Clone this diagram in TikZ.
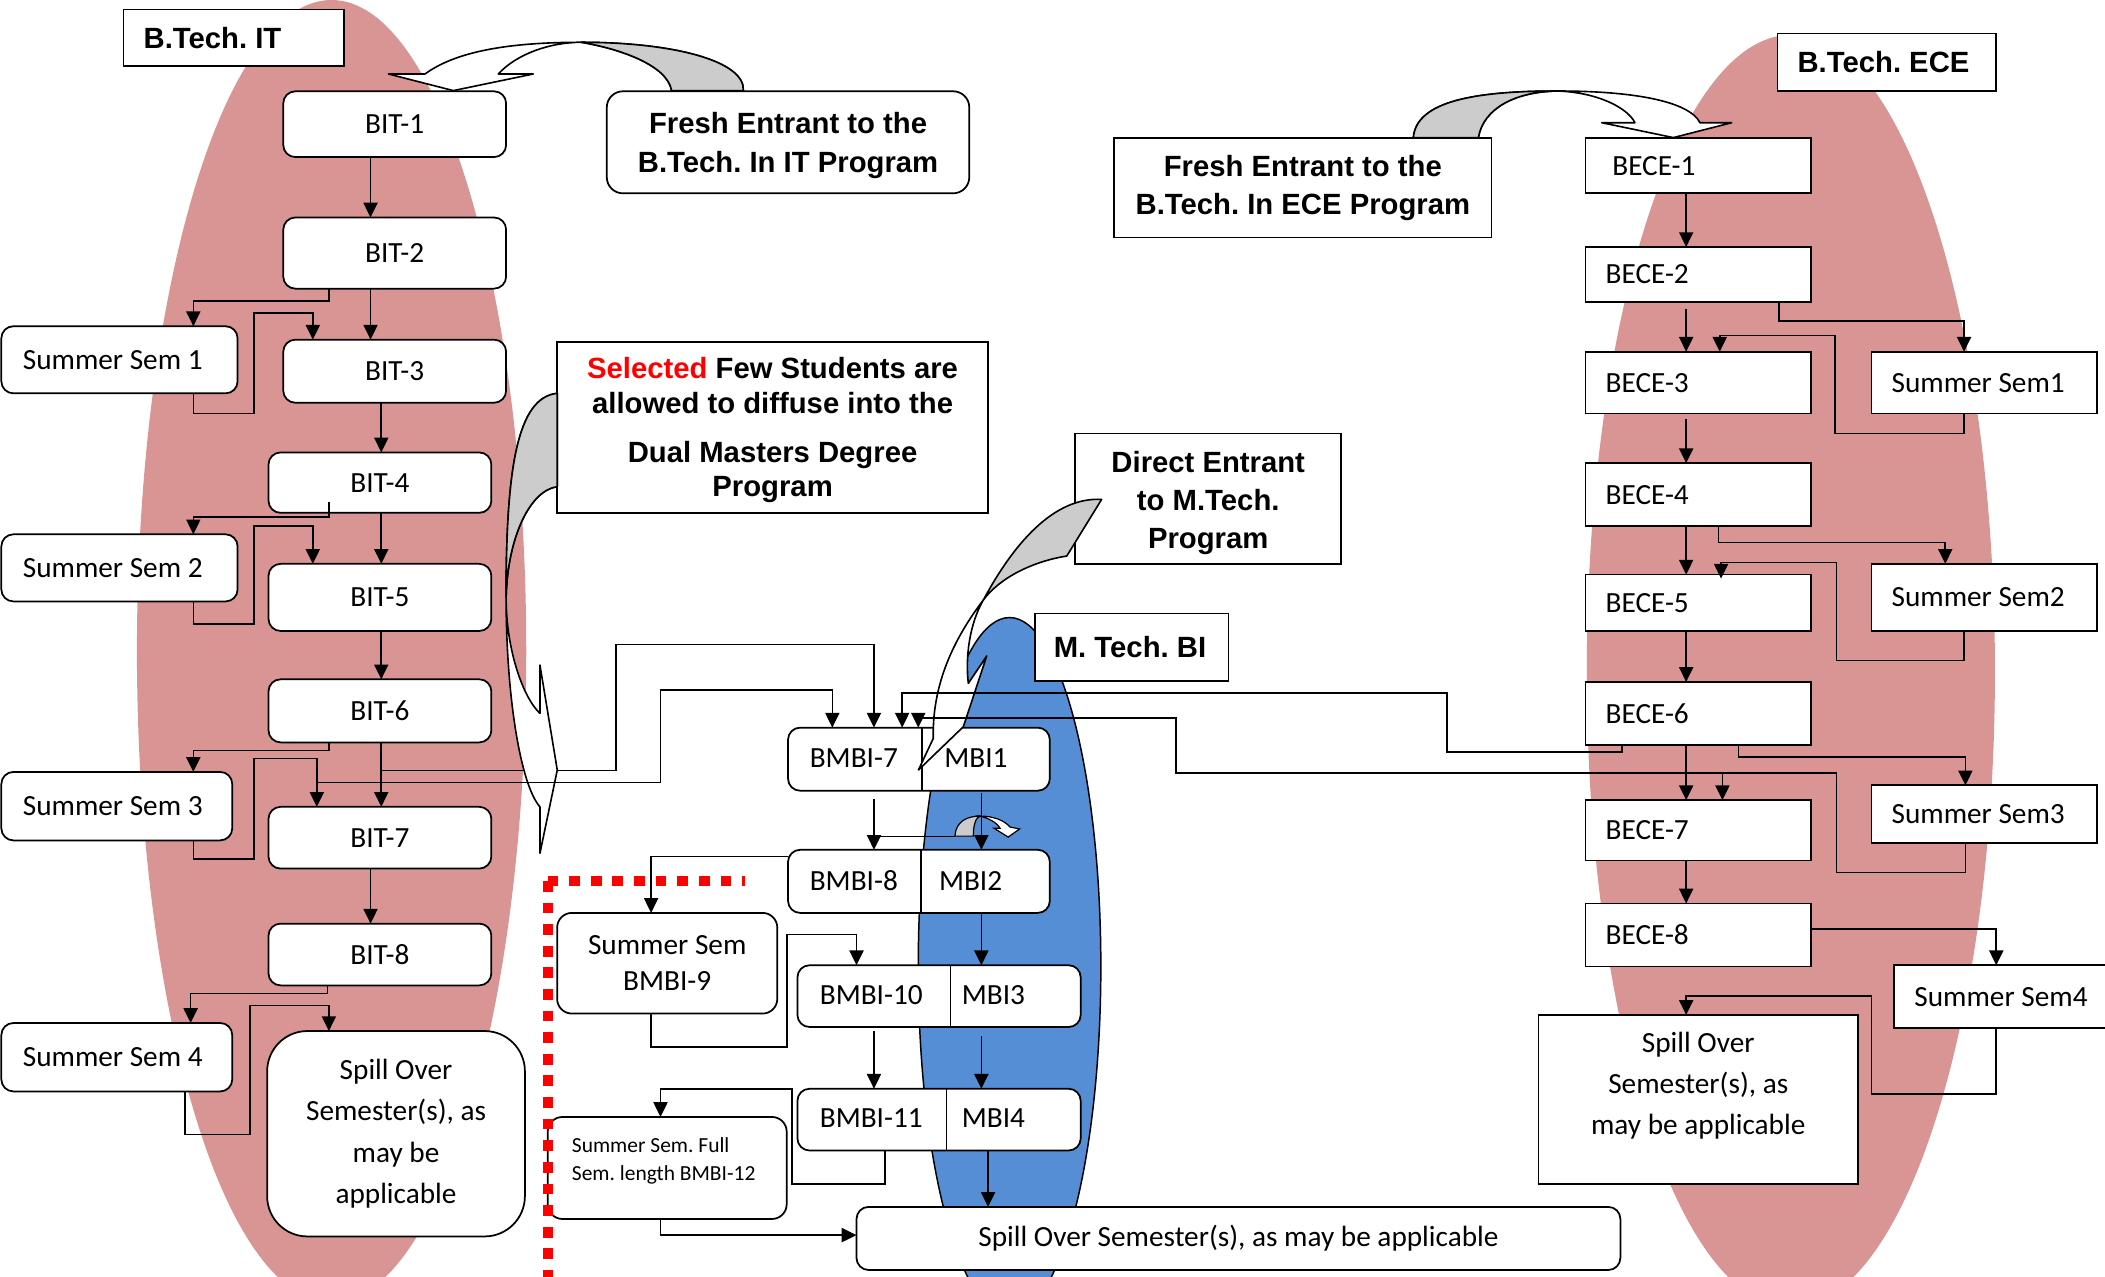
\documentclass[tikz,border=0pt]{standalone}
\usepackage{fontspec}
\setmainfont{Carlito}
\newfontfamily\arbold{Liberation Sans}
\usetikzlibrary{arrows.meta,calc}
\definecolor{pinkbg}{RGB}{217,149,148}
\definecolor{bluebg}{RGB}{85,142,213}
\definecolor{grayf}{RGB}{204,204,204}
\newcommand\fsz{\fontsize{21.8}{31}\selectfont}
\newcommand\ttlf{\arbold\bfseries\fontsize{21.8}{29}\selectfont}
\newcommand\mybox[7]{\node[#2, minimum width={#5-#3}, minimum height={#6-#4}, anchor=north west] (#1) at (#3,#4) {\spaceskip=0pt\xspaceskip=0pt\relax #7};}
\begin{document}
\frenchspacing
\begin{tikzpicture}[x=1pt,y=-1pt,
  every node/.style={outer sep=0pt},
  rbox/.style={draw, fill=white, rounded corners=9, line width=1.3, inner sep=0pt, font=\fsz, align=center},
  sbox/.style={draw, fill=white, line width=1.3, inner sep=0pt, font=\fsz, align=center},
  tbox/.style={sbox, font=\ttlf},
  lbl/.style={font=\fsz, inner sep=0pt},
  conn/.style={line width=1.2, -{Triangle[length=11pt,width=10.5pt]}},
  link/.style={line width=1.2},
  shp/.style={line width=1.2, line join=round}]
\useasboundingbox (0,0) rectangle (1568,950.5);
\clip (0,0) rectangle (1568,950.5);
% background shapes
\fill[pinkbg] (247,485) ellipse [x radius=145, y radius=485];
\fill[pinkbg] (1334,500) ellipse [x radius=152, y radius=474];
\filldraw[fill=bluebg, line width=1.1] (752,720) ellipse [x radius=68, y radius=260];
% left column
\mybox{btit}{tbox, align=left, text width=134, inner xsep=15}{92}{7}{256}{49}{B.Tech. IT}
\mybox{bit1}{rbox}{211}{68}{377}{117}{BIT-1}
\mybox{bit2}{rbox}{211}{162}{377}{215}{BIT-2}
\mybox{bit3}{rbox}{211}{253}{377}{300}{BIT-3}
\mybox{bit4}{rbox}{200}{337}{366}{382}{BIT-4}
\mybox{bit5}{rbox}{200}{420}{366}{470}{BIT-5}
\mybox{bit6}{rbox}{200}{506}{366}{553}{BIT-6}
\mybox{bit7}{rbox}{200}{601}{366}{647}{BIT-7}
\mybox{bit8}{rbox}{200}{688}{366}{734}{BIT-8}
\mybox{spillL}{rbox, rounded corners=30}{199}{768}{391}{921}{Spill Over\\Semester(s), as\\may be\\applicable}
\mybox{ss1}{rbox, align=left, text width=144, inner xsep=16}{1}{243}{177}{293}{Summer Sem 1}
\mybox{ss2}{rbox, align=left, text width=144, inner xsep=16}{1}{398}{177}{448}{Summer Sem 2}
\mybox{ss3}{rbox, align=left, text width=140, inner xsep=16}{1}{575}{173}{626}{Summer Sem 3}
\mybox{ss4}{rbox, align=left, text width=140, inner xsep=16}{1}{762}{173}{813}{Summer Sem 4}
% line from BIT-6 level to BMBI-7 (under the big arrow)
\coordinate (j1) at (284,574);
\draw[conn] (j1) -- (459,574) -- (459,480) -- (651,480) -- (651,542);
% top text boxes
\mybox{freshit}{rbox, rounded corners=12, font=\ttlf, text height=49pt}{452}{68}{722}{144}{Fresh Entrant to the\\B.Tech. In IT Program}
\mybox{freshece}{tbox, font={\arbold\bfseries\fontsize{21.8}{28}\selectfont}}{830}{103}{1111}{177}{Fresh Entrant to the\\B.Tech. In ECE Program}
\mybox{selected}{tbox, font={\arbold\bfseries\fontsize{21.8}{26}\selectfont}, text height=108pt}{415}{255}{736}{382}{\textcolor{red}{Selected} Few Students are\\allowed to diffuse into the\\[10pt]Dual Masters Degree\\Program}
\mybox{direct}{tbox, font={\arbold\bfseries\fontsize{21.8}{28.5}\selectfont}, text height=79pt}{801}{323}{999}{420}{Direct Entrant\\to M.Tech.\\Program}
\mybox{mtbi}{tbox, align=left, text width=116, inner xsep=14}{771}{457}{915}{507}{M. Tech. BI}
% ECE column
\mybox{btece}{tbox, align=left, text width=133, inner xsep=15}{1324}{25}{1487}{68}{B.Tech. ECE}
\mybox{bece1}{sbox, align=left, text width=128, inner xsep=20}{1181}{103}{1349}{144}{BECE-1}
\mybox{bece2}{sbox, align=left, text width=138, inner xsep=15}{1181}{184}{1349}{225}{BECE-2}
\mybox{bece3}{sbox, align=left, text width=138, inner xsep=15}{1181}{262}{1349}{308}{BECE-3}
\mybox{bece4}{sbox, align=left, text width=138, inner xsep=15}{1181}{345}{1349}{392}{BECE-4}
\mybox{bece5}{sbox, align=left, text width=138, inner xsep=15}{1181}{428}{1349}{470}{BECE-5}
\mybox{bece6}{sbox, align=left, text width=138, inner xsep=15}{1181}{508}{1349}{555}{BECE-6}
\mybox{bece7}{sbox, align=left, text width=138, inner xsep=15}{1181}{596}{1349}{641}{BECE-7}
\mybox{bece8}{sbox, align=left, text width=138, inner xsep=15}{1181}{673}{1349}{720}{BECE-8}
\mybox{sse1}{sbox, align=left, text width=138, inner xsep=15}{1394}{262}{1562}{308}{Summer Sem1}
\mybox{sse2}{sbox, align=left, text width=138, inner xsep=15}{1394}{420}{1562}{470}{Summer Sem2}
\mybox{sse3}{sbox, align=left, text width=138, inner xsep=15}{1394}{585}{1562}{628}{Summer Sem3}
\mybox{sse4}{sbox, align=left, text width=142, inner xsep=15}{1411}{719}{1583}{766}{Summer Sem4}
\mybox{spillE}{sbox, text depth=24pt, font={\fontsize{21.8}{30.5}\selectfont}}{1146}{756}{1384}{882}{Spill Over\\Semester(s), as\\may be applicable}
% middle column
\mybox{bm7}{rbox}{587}{542}{782}{589}{}
\draw[link] (bm7.north -| 687,0) -- (bm7.south -| 687,0);
\node[lbl] (bm7a) at (636,565) {BMBI-7};
\node[lbl] (bm7b) at (727,565) {MBI1};
\mybox{bm8}{rbox}{587}{633}{782}{680}{}
\draw[link] (bm8.north -| 686,0) -- (bm8.south -| 686,0);
\node[lbl] (bm8a) at (636,656) {BMBI-8};
\node[lbl] (bm8b) at (723,656) {MBI2};
\mybox{bm10}{rbox}{594}{719}{805}{765}{}
\draw[link] (bm10.north -| 708,0) -- (bm10.south -| 708,0);
\node[lbl] (bm10a) at (649,741) {BMBI-10};
\node[lbl] (bm10b) at (740,741) {MBI3};
\mybox{bm11}{rbox}{594}{811}{805}{857}{}
\draw[link] (bm11.north -| 705,0) -- (bm11.south -| 705,0);
\node[lbl] (bm11a) at (649,833) {BMBI-11};
\node[lbl] (bm11b) at (740,833) {MBI4};
\mybox{spillB}{rbox}{638}{899}{1207}{946}{Spill Over Semester(s), as may be applicable}
\mybox{ss9}{rbox, rounded corners=11, font={\fontsize{21.8}{27}\selectfont}}{415}{680}{579}{755}{Summer Sem\\BMBI-9}
\mybox{ss12}{rbox, rounded corners=11, align=left, text width=142, inner xsep=18, text depth=34pt, font={\fontsize{16}{21}\selectfont}}{408}{832}{586}{908}{Summer Sem. Full\\Sem. length BMBI-12}
% curved block arrows
\filldraw[shp, fill=white] (316.6,55.1) -- (289.3,55.1) -- (337.7,67.5) -- (397.3,55.1) -- (371.2,55.1)
  .. controls (385,40) and (410,31.5) .. (433,31.5)
  .. controls (460,36) and (497,48) .. (500.3,67.5) -- (553.7,67.5)
  .. controls (555,45) and (500,31.5) .. (433,31.5)
  .. controls (380,31.5) and (340,38) .. (316.6,55.1) -- cycle;
\filldraw[shp, fill=grayf] (433,31.5) .. controls (460,36) and (497,48) .. (500.3,67.5) -- (553.7,67.5)
  .. controls (555,45) and (500,31.5) .. (433,31.5) -- cycle;
\filldraw[shp, fill=white] (1052.8,102.5) .. controls (1055,75) and (1100,67.8) .. (1160.8,67.8)
  .. controls (1215,67.8) and (1258,75) .. (1266.3,91.4) -- (1289.9,91.4) -- (1246.5,102.5) -- (1193.1,91.4) -- (1217.9,91.4)
  .. controls (1212,80) and (1190,69) .. (1160.8,67.8)
  .. controls (1130,68) and (1105,80) .. (1101.2,102.5) -- cycle;
\filldraw[shp, fill=grayf] (1052.8,102.5) .. controls (1055,75) and (1100,67.8) .. (1160.8,67.8)
  .. controls (1130,68) and (1105,80) .. (1101.2,102.5) -- cycle;
\filldraw[shp, fill=white] (415.1,293) .. controls (385,296) and (377,350) .. (377,445)
  .. controls (377,520) and (388,585) .. (402.2,601) -- (402.2,635.6) -- (415.1,573.6) -- (402.2,495.4) -- (402.2,531.4)
  .. controls (390,520) and (377,485) .. (377,445)
  .. controls (378,400) and (395,365) .. (415.1,362.5) -- cycle;
\filldraw[shp, fill=grayf] (415.1,293) .. controls (385,296) and (377,350) .. (377,445)
  .. controls (378,400) and (395,365) .. (415.1,362.5) -- cycle;
\filldraw[shp, fill=white] (732.5,446.9) .. controls (715,470) and (694,505) .. (695.2,550) -- (684.1,573.6) -- (717.6,541.3) -- (735,488.6) -- (721.3,509)
  .. controls (719,490) and (722,465) .. (732.5,446.9) -- cycle;
\filldraw[shp, fill=grayf] (732.5,446.9) .. controls (755,405) and (785,370) .. (820.6,372) -- (794.6,414.2)
  .. controls (770,418) and (745,430) .. (732.5,446.9) -- cycle;
% small curved arrow
\draw[link] (651,623) -- (711.3,623);
\filldraw[line width=0.9, fill=grayf] (711.3,622.8) .. controls (712,612) and (720,607.9) .. (730,607.9)
  .. controls (727,609) and (725,614) .. (725,622.8) -- cycle;
\filldraw[line width=0.9, fill=white] (730,607.9) .. controls (740,607.9) and (748,611) .. (752.3,616) -- (759.5,617.5) -- (751,623.5) -- (740.5,617) -- (745,617)
  .. controls (742,612) and (736,609.5) .. (730,607.9) -- cycle;
% left connectors
\draw[conn] (bit1.south -| 276,0) -- (bit2.north -| 276,0);
\draw[conn] (bit2.south -| 276,0) -- (bit3.north -| 276,0);
\draw[conn] (bit2.south -| 245,0) -- (245,224) -- (144,224) -- (ss1.north -| 144,0);
\draw[conn] (ss1.south -| 144,0) -- (144,308) -- (189,308) -- (189,233) -- (233,233) -- (bit3.north -| 233,0);
\draw[conn] (bit3.south -| 284,0) -- (bit4.north -| 284,0);
\draw[conn] ($(bit4.south -| 245,0)+(0,-8)$) -- (245,385) -- (144,385) -- (ss2.north -| 144,0);
\draw[conn] (ss2.south -| 144,0) -- (144,465) -- (189,465) -- (189,392) -- (233,392) -- (bit5.north -| 233,0);
\draw[conn] (bit4.south -| 284,0) -- (bit5.north -| 284,0);
\draw[conn] (bit5.south -| 284,0) -- (bit6.north -| 284,0);
\draw[conn] (bit6.south -| 245,0) -- (245,559) -- (144,559) -- (ss3.north -| 144,0);
\draw[conn] (ss3.south -| 144,0) -- (144,640) -- (189,640) -- (189,565) -- (236,565) -- (bit7.north -| 236,0);
\draw[conn] (bit6.south -| 284,0) -- (bit7.north -| 284,0);
\coordinate (j3) at (236,583);
\draw[conn] (j3) -- (492,583) -- (492,514) -- (620,514) -- (bm7.north -| 620,0);
\draw[conn] (bit7.south -| 276,0) -- (bit8.north -| 276,0);
\draw[conn] (bit8.south -| 244,0) -- (244,740) -- (142,740) -- (ss4.north -| 142,0);
\draw[conn] (ss4.south -| 138,0) -- (138,845) -- (186,845) -- (186,749) -- (245,749) -- (spillL.north -| 245,0);
% middle connectors
\draw[conn] ($(bm7.south -| 651,0)+(0,6)$) -- (bm8.north -| 651,0);
\draw[conn] ($(bm7.south -| 731,0)+(0,2)$) -- (bm8.north -| 731,0);
\draw[conn] (bm8.west |- 0,638) -- (485,638) -- (ss9.north -| 485,0);
\draw[conn] (ss9.south -| 485,0) -- (485,780) -- (586,780) -- (586,696) -- (638,696) -- (bm10.north -| 638,0);
\draw[conn] (bm8.south -| 731,0) -- (bm10.north -| 731,0);
\draw[conn] ($(bm10.south -| 651,0)+(0,3)$) -- (bm11.north -| 651,0);
\draw[conn] ($(bm10.south -| 731,0)+(0,7)$) -- (bm11.north -| 731,0);
\draw[conn] (bm11.south -| 659,0) -- (659,882) -- (590,882) -- (590,811) -- (492,811) -- (ss12.north -| 492,0);
\draw[conn] (ss12.south -| 492,0) -- (492,920) -- (spillB.west |- 0,920);
\draw[conn] (bm11.south -| 736,0) -- (spillB.north -| 736,0);
% ECE connectors
\draw[conn] (bece1.south -| 1256,0) -- (bece2.north -| 1256,0);
\draw[conn] ($(bece2.south -| 1256,0)+(0,5)$) -- (bece3.north -| 1256,0);
\draw[conn] (bece2.south -| 1325,0) -- (1325,239) -- (1463,239) -- (sse1.north -| 1463,0);
\draw[conn] (sse1.south -| 1463,0) -- (1463,323) -- (1367,323) -- (1367,250) -- (1281,250) -- (bece3.north -| 1281,0);
\draw[conn] ($(bece3.south -| 1256,0)+(0,4)$) -- (bece4.north -| 1256,0);
\draw[conn] (bece4.south -| 1280,0) -- (1280,404) -- (1449,404) -- (sse2.north -| 1449,0);
\draw[conn] (sse2.south -| 1463,0) -- (1463,492) -- (1368,492) -- (1368,419) -- (1282,419) -- ($(bece5.north -| 1282,0)+(0,3)$);
\draw[conn] (bece4.south -| 1256,0) -- (bece5.north -| 1256,0);
\draw[conn] (bece5.south -| 1256,0) -- (bece6.north -| 1256,0);
\draw[conn] (bece6.south -| 1295,0) -- (1295,564) -- (1464,564) -- (sse3.north -| 1464,0);
\draw[conn] (bece6.south -| 1256,0) -- (bece7.north -| 1256,0);
\coordinate (j2) at (1283,576);
\draw[conn] (sse3.south -| 1464,0) -- (1464,650) -- (1368,650) -- (1368,576) -- (j2) -- (bece7.north -| 1283,0);
\draw[conn] (j2) -- (876,576) -- (876,535) -- (684,535) -- (bm7.north -| 684,0);
\draw[conn] (bece6.south -| 1208,0) -- (1208,560) -- (1078,560) -- (1078,516) -- (672,516) -- (bm7.north -| 672,0);
\draw[conn] (bece7.south -| 1256,0) -- (bece8.north -| 1256,0);
\draw[conn] (bece8.east |- 0,692) -- (1487,692) -- (sse4.north -| 1487,0);
\draw[conn] (sse4.south -| 1487,0) -- (1487,815) -- (1394,815) -- (1394,742) -- (1256,742) -- (spillE.north -| 1256,0);
% red dotted boundary
\draw[red, line width=7.4, dash pattern=on 8 off 8.1] (407.9,656.2) -- (555,656.2);
\draw[red, line width=7.4, dash pattern=on 8 off 8.1] (408,656.2) -- (408,960);
\end{tikzpicture}
\end{document}
